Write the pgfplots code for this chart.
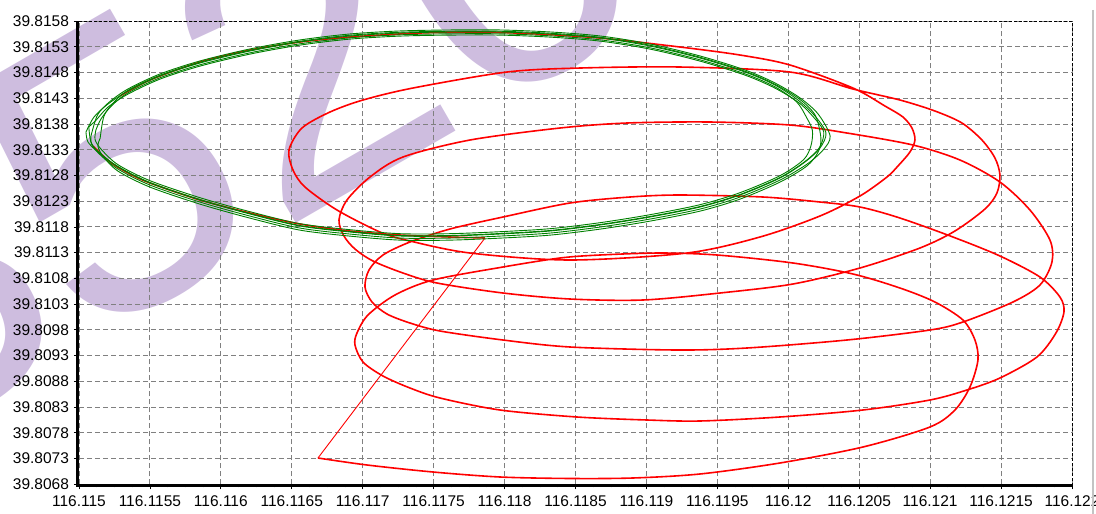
\documentclass[border=0pt]{standalone}
\usepackage{fontspec}
\setmainfont{Liberation Sans}
\usepackage{pgfplots}
\pgfplotsset{compat=1.18}
\definecolor{gridgray}{RGB}{128,128,128}
\definecolor{trackred}{RGB}{255,0,0}
\definecolor{trackgreen}{RGB}{0,128,0}
\definecolor{wmark}{RGB}{206,189,223}
\definecolor{framegray}{RGB}{195,195,195}
\begin{document}
\begin{tikzpicture}
\useasboundingbox (0pt,0pt) rectangle (1096pt,514pt);
% watermark (behind the chart)
\node[rotate=30, anchor=base west, text=wmark, inner sep=0pt,
      font=\fontsize{405}{405}\selectfont] at (-112pt,55pt) {35202};
\begin{axis}[
  name=ax,
  at={(79pt,29.7pt)}, anchor=south west,
  scale only axis, width=993pt, height=463.3pt,
  xmin=0, xmax=70, ymin=0, ymax=90,
  axis line style={draw=none},
  xtick={0,5,...,70},
  xticklabels={116.115,116.1155,116.116,116.1165,116.117,116.1175,116.118,116.1185,116.119,116.1195,116.12,116.1205,116.121,116.1215,116.122},
  ytick={0,5,...,90},
  yticklabels={39.8068,39.8073,39.8078,39.8083,39.8088,39.8093,39.8098,39.8103,39.8108,39.8113,39.8118,39.8123,39.8128,39.8133,39.8138,39.8143,39.8148,39.8153,39.8158},
  minor x tick num=3,
  xtick pos=left, ytick pos=left,
  tick align=outside,
  major tick length=5pt, minor tick length=3pt,
  tick style={black, line width=0.8pt},
  grid=major,
  major grid style={gridgray, line width=0.9pt, dash pattern=on 5pt off 3pt},
  ticklabel style={font=\fontsize{15.5}{18}\selectfont},
  xticklabel style={yshift=-3pt},
  yticklabel style={xshift=-1.5pt},
]
% red track: part lying on the green loop
\addplot[trackred, line width=1.6pt, smooth, tension=0.5] coordinates {
(0.987,65.715) (2.185,62.607) (3.595,60.276) (5.005,58.528) (8.529,55.225) (12.054,52.700) (15.578,50.563) (19.103,49.204) (22.627,48.427) (26.152,48.038) (28.619,47.844)};
% red track: jump
\addplot[trackred, line width=0.9pt] coordinates {(28.619,47.844) (16.847,5.109)};
% red track: spiral
\addplot[trackred, line width=1.6pt, smooth, tension=0.5] coordinates {
(16.847,5.109) (20.301,3.749) (24.953,2.389) (29.676,1.418) (34.611,1.127) (39.051,1.224) (43.774,2.001) (49.413,4.138) (55.264,7.246) (59.987,11.131) (61.749,14.433) (62.807,18.901) (63.371,24.145) (63.159,28.030) (62.313,31.915) (60.339,35.412) (57.872,38.131) (54.559,40.851) (50.330,42.988) (44.973,44.542) (40.955,44.930) (36.725,44.542) (33.906,43.959) (29.888,42.211) (24.953,39.685) (22.275,36.772) (20.372,32.887) (19.596,29.390) (19.455,27.059) (20.019,23.757) (21.429,21.037) (23.332,18.706) (25.447,16.764) (29.676,14.433) (35.104,13.073) (40.038,12.490) (43.774,12.296) (49.413,13.073) (55.264,14.433) (59.987,16.375) (62.595,18.318) (64.921,20.649) (67.529,24.728) (68.869,29.390) (69.433,33.469) (69.151,36.383) (67.741,40.268) (64.921,44.347) (61.608,48.038) (57.872,51.729) (55.053,53.866) (52.233,54.837) (48.215,55.808) (42.364,56.197) (38.840,55.808) (34.611,54.643) (29.888,51.923) (26.152,49.592) (23.332,47.067) (21.429,44.542) (20.442,41.628) (20.160,38.326) (20.654,35.412) (21.711,33.081) (23.332,31.333) (25.447,29.779) (29.888,28.030) (34.611,26.671) (42.153,26.088) (47.087,26.476) (54.136,28.030) (59.987,29.973) (62.313,31.527) (65.838,35.412) (67.741,38.714) (68.587,43.182) (68.446,47.455) (67.036,53.283) (64.921,58.722) (62.102,62.995) (58.789,65.909) (54.136,68.240) (50.118,69.794) (44.479,70.377) (38.629,70.183) (33.906,69.212) (27.562,66.880) (22.839,63.579) (20.513,59.693) (18.891,55.225) (18.327,51.340) (18.680,48.233) (19.455,45.707) (20.724,43.376) (22.839,41.045) (25.235,39.103) (29.888,37.160) (34.611,35.995) (39.756,35.800) (45.184,37.160) (50.330,38.908) (55.053,42.016) (59.282,45.901) (61.749,49.204) (63.864,53.477) (64.710,56.585) (64.921,60.082) (64.569,63.384) (63.652,66.880) (62.243,70.183) (60.339,72.514) (57.872,74.650) (54.559,76.787) (50.118,80.089) (42.364,81.061) (35.315,80.866) (30.170,80.089) (23.544,76.981) (20.019,74.650) (17.693,72.319) (15.719,69.212) (14.803,64.938) (15.085,61.053) (15.931,57.751) (18.186,53.283) (21.217,49.010) (23.332,47.261) (27.562,44.930) (34.611,43.570) (42.858,44.930) (48.004,48.038) (52.233,52.118) (55.053,56.003) (56.956,59.693) (57.731,61.831) (58.577,64.551) (58.930,66.880) (58.718,69.212) (58.084,71.348) (56.815,73.485) (54.559,76.981) (50.118,81.450) (46.594,83.392) (42.364,84.946) (36.725,86.695) (32.284,87.472) (28.266,87.860) (24.037,87.666) (19.103,86.889) (15.578,85.918) (12.054,84.364) (8.529,82.033) (5.005,78.536) (2.890,75.428)};
% green loops
\addplot[trackgreen, line width=0.9pt, smooth, tension=0.5] coordinates {
(0.493,68.434) (1.057,71.348) (2.044,73.873) (3.454,76.399) (5.710,79.312) (8.529,81.838) (12.054,84.169) (15.578,85.918) (19.103,87.083) (22.627,87.666) (26.152,87.860) (29.676,87.860) (33.201,87.472) (36.725,86.695) (40.250,85.141) (43.774,82.810) (46.946,80.089) (49.061,77.564) (50.682,74.650) (51.881,71.542) (52.656,68.240) (52.233,65.326) (51.176,62.607) (49.413,59.499) (46.594,56.197) (43.774,53.866) (40.250,51.923) (36.725,50.369) (33.201,49.204) (29.676,48.621) (26.152,48.233) (22.627,48.233) (19.103,49.010) (15.578,50.175) (12.054,52.506) (8.529,55.225) (5.005,58.528) (2.749,61.636) (1.339,64.550) (0.634,66.493) (0.493,68.434)};
\addplot[trackgreen, line width=0.9pt, smooth, tension=0.5] coordinates {
(0.843,67.634) (1.307,71.748) (2.144,74.273) (3.454,76.799) (5.710,79.712) (8.529,82.238) (12.054,84.569) (15.578,86.318) (19.103,87.483) (22.627,88.066) (26.152,88.260) (29.676,88.260) (33.201,87.872) (36.725,87.095) (40.250,85.541) (43.774,83.210) (46.946,80.489) (49.061,77.964) (50.832,75.050) (52.100,71.942) (52.950,67.640) (52.450,64.926) (51.326,62.207) (49.413,59.099) (46.594,55.797) (43.774,53.466) (40.250,51.523) (36.725,49.969) (33.201,48.804) (29.676,48.221) (26.152,47.833) (22.627,47.833) (19.103,48.610) (15.578,49.775) (12.054,52.106) (8.529,54.825) (5.005,58.128) (2.749,61.236) (1.439,64.150) (0.884,66.093) (0.843,67.634)};
\addplot[trackgreen, line width=0.9pt, smooth, tension=0.5] coordinates {
(1.193,68.834) (1.557,70.998) (2.294,73.523) (3.454,76.049) (5.710,78.962) (8.529,81.488) (12.054,83.819) (15.578,85.568) (19.103,86.733) (22.627,87.316) (26.152,87.510) (29.676,87.510) (33.201,87.122) (36.725,86.345) (40.250,84.791) (43.774,82.460) (46.946,79.739) (49.061,77.214) (50.582,74.300) (51.300,71.192) (51.700,68.740) (51.600,65.776) (51.076,63.057) (49.413,59.949) (46.594,56.647) (43.774,54.316) (40.250,52.373) (36.725,50.819) (33.201,49.654) (29.676,49.071) (26.152,48.683) (22.627,48.683) (19.103,49.460) (15.578,50.625) (12.054,52.956) (8.529,55.675) (5.005,58.978) (2.749,62.086) (1.589,65.000) (1.134,66.943) (1.193,68.834)};
\addplot[trackgreen, line width=0.9pt, smooth, tension=0.5] coordinates {
(1.493,67.234) (1.757,71.498) (2.394,74.023) (3.454,76.549) (5.710,79.462) (8.529,81.988) (12.054,84.319) (15.578,86.068) (19.103,87.233) (22.627,87.816) (26.152,88.010) (29.676,88.010) (33.201,87.622) (36.725,86.845) (40.250,85.291) (43.774,82.960) (46.946,80.239) (49.061,77.714) (50.800,74.800) (51.900,71.692) (52.300,67.240) (52.100,64.526) (51.300,61.807) (49.413,58.699) (46.594,55.397) (43.774,53.066) (40.250,51.123) (36.725,49.569) (33.201,48.404) (29.676,47.821) (26.152,47.433) (22.627,47.433) (19.103,48.210) (15.578,49.375) (12.054,51.706) (8.529,54.425) (5.005,57.728) (2.749,60.836) (1.689,63.750) (1.334,65.693) (1.493,67.234)};
\addplot[trackgreen, line width=0.9pt, smooth, tension=0.5] coordinates {
(0.693,69.434) (1.207,70.748) (2.044,73.273) (3.454,75.799) (5.710,78.712) (8.529,81.238) (12.054,83.569) (15.578,85.318) (19.103,86.483) (22.627,87.066) (26.152,87.260) (29.676,87.260) (33.201,86.872) (36.725,86.095) (40.250,84.541) (43.774,82.210) (46.946,79.489) (49.061,76.964) (50.782,74.050) (51.900,70.942) (52.500,68.440) (52.200,65.426) (51.176,62.707) (49.413,59.599) (46.594,56.297) (43.774,53.966) (40.250,52.023) (36.725,50.469) (33.201,49.304) (29.676,48.721) (26.152,48.333) (22.627,48.333) (19.103,49.110) (15.578,50.275) (12.054,52.606) (8.529,55.325) (5.005,58.628) (2.749,61.736) (1.339,64.650) (0.834,66.593) (0.693,69.434)};
\end{axis}
% frame lines
\draw[black, line width=2.6pt] ([xshift=-1.5pt]ax.north west) -- ([xshift=-1.5pt,yshift=-2.3pt]ax.south west);
\draw[black, line width=2.6pt] ([xshift=-2.8pt,yshift=-1pt]ax.south west) -- ([yshift=-1pt]ax.south east);
\draw[black, line width=1pt, dash pattern=on 3pt off 2pt] (ax.north west) -- (ax.north east) -- (ax.south east);
\draw[framegray, line width=2pt] (1093pt,504pt) -- (1093pt,0pt);
\end{tikzpicture}
\end{document}
